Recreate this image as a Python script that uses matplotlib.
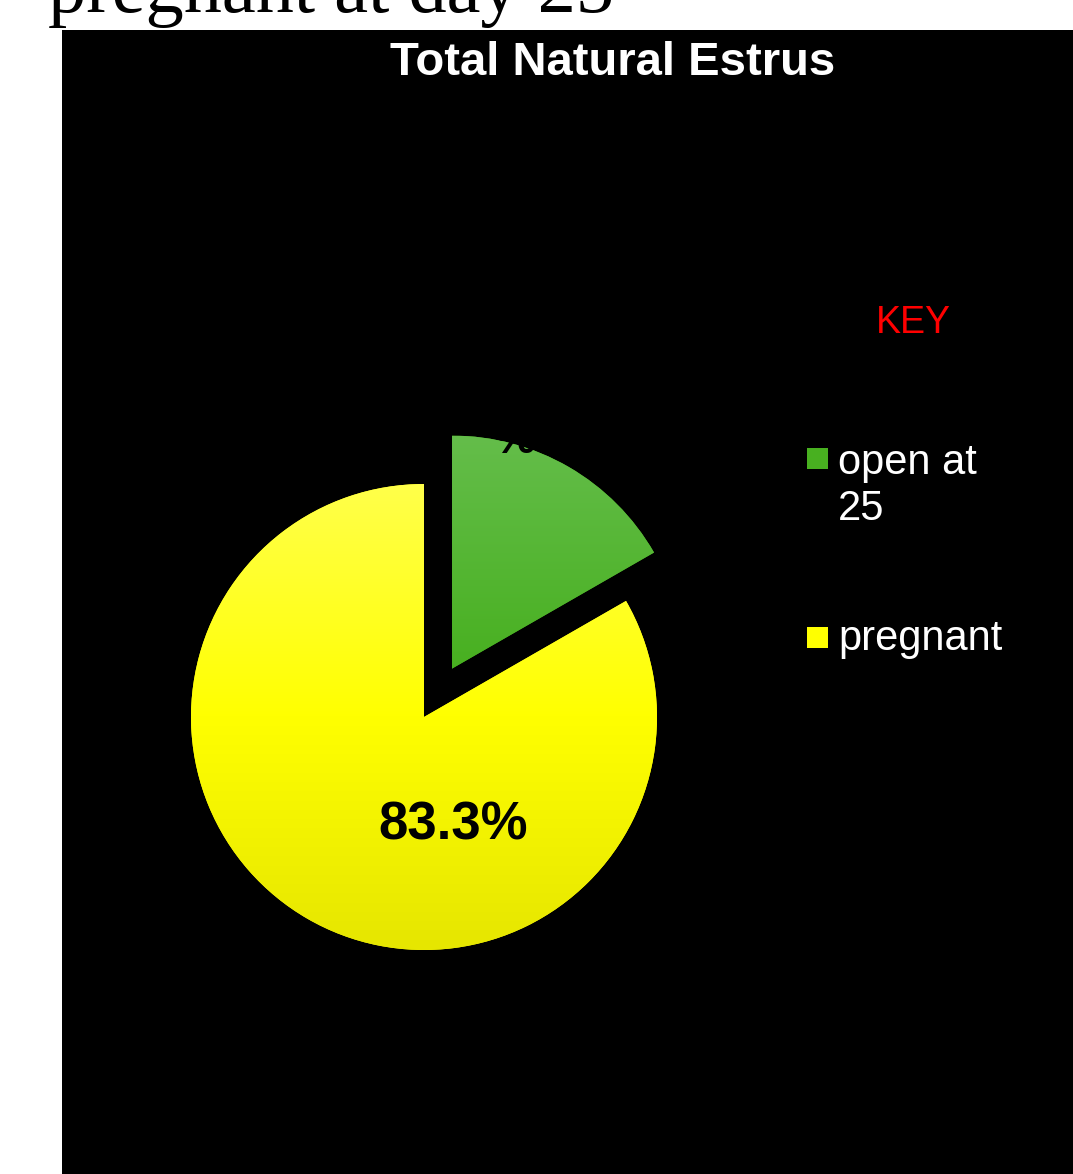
import numpy as np
import matplotlib
matplotlib.use("Agg")
import matplotlib.pyplot as plt
from matplotlib.patches import Rectangle
from matplotlib.colors import LinearSegmentedColormap

# data
labels = ['open at\n25', 'pregnant']
shares = [16.7, 83.3]
top_colors = ['#64bd4a', '#ffff4a']
mid_colors = ['#48b020', '#ffff00']
bot_colors = ['#36a010', '#e6e600']

plt.rcParams['font.family'] = ['Liberation Sans', 'DejaVu Sans']

W, H = 1073, 1174
fig = plt.figure(figsize=(W / 100, H / 100), dpi=100, facecolor='white')

# black chart area
fig.patches.append(Rectangle((62 / W, 0), (W - 62) / W, (H - 30) / H,
                             transform=fig.transFigure, facecolor='black',
                             edgecolor='none', zorder=-2))

# slide text cut off at the top
fig.text(48 / W, 1 - 12 / H, 'pregnant at day 25', family='Liberation Serif',
         fontsize=55, color='black', va='baseline', ha='left', zorder=1)

# pie axes: centre of pie at (424, 717) px, radius 233 px
r_px = 233
L = 1.5
side = 2 * L * r_px
cx, cy = 424, 717
ax = fig.add_axes([(cx - side / 2) / W, (H - cy - side / 2) / H, side / W, side / H])
ax.set_facecolor('none')
ax.set_zorder(1)

wedges, texts, autotexts = ax.pie(shares, startangle=90, counterclock=False,
                                  explode=[0.24, 0], colors=mid_colors,
                                  autopct='%1.1f%%', radius=1,
                                  textprops=dict(color='black', fontweight='bold', fontsize=38))
ax.axis('off')

# vertical gradient on each slice
for w, c0, c1, c2 in zip(wedges, top_colors, mid_colors, bot_colors):
    cmap = LinearSegmentedColormap.from_list('g', [c2, c1, c0])
    grad = np.linspace(0, 1, 256).reshape(-1, 1)
    cx0, cy0 = w.center
    im = ax.imshow(grad, cmap=cmap, origin='lower', aspect='auto',
                   extent=(cx0 - 1, cx0 + 1, cy0 - 1, cy0 + 1), zorder=1.5)
    im.set_clip_path(w)
ax.set_xlim(-L, L)
ax.set_ylim(-L, L)

# percentage labels where the original put them
# small slice label wraps and sits mostly on the black background
autotexts[0].set_text(autotexts[0].get_text().replace('%', '\n%'))
autotexts[0].set_fontsize(34)
autotexts[0].set_position((0.39, 1.09))
autotexts[0].set_va('bottom')
autotexts[1].set_position((0.125, -0.465))
for t in autotexts:
    t.set_zorder(3)

fig.text(613 / W, 1 - 63 / H, 'Total Natural Estrus', color='white',
         fontsize=34, fontweight='bold', ha='center', va='center')
fig.text(913 / W, 1 - 323 / H, 'KEY', color='red', fontsize=27,
         ha='center', va='center')

# key entries: square aligned with first line of each label
for lab, col, sq_top, y_base in zip(labels, mid_colors, [448, 627], [520, 650]):
    fig.patches.append(Rectangle((807 / W, 1 - (sq_top + 21) / H), 21 / W, 21 / H,
                                 transform=fig.transFigure, facecolor=col,
                                 edgecolor='none', zorder=2))
    fig.text(838 / W, 1 - y_base / H, lab, color='white', fontsize=30,
             ha='left', va='baseline')

fig.savefig('out.png', dpi=100, facecolor='white')
